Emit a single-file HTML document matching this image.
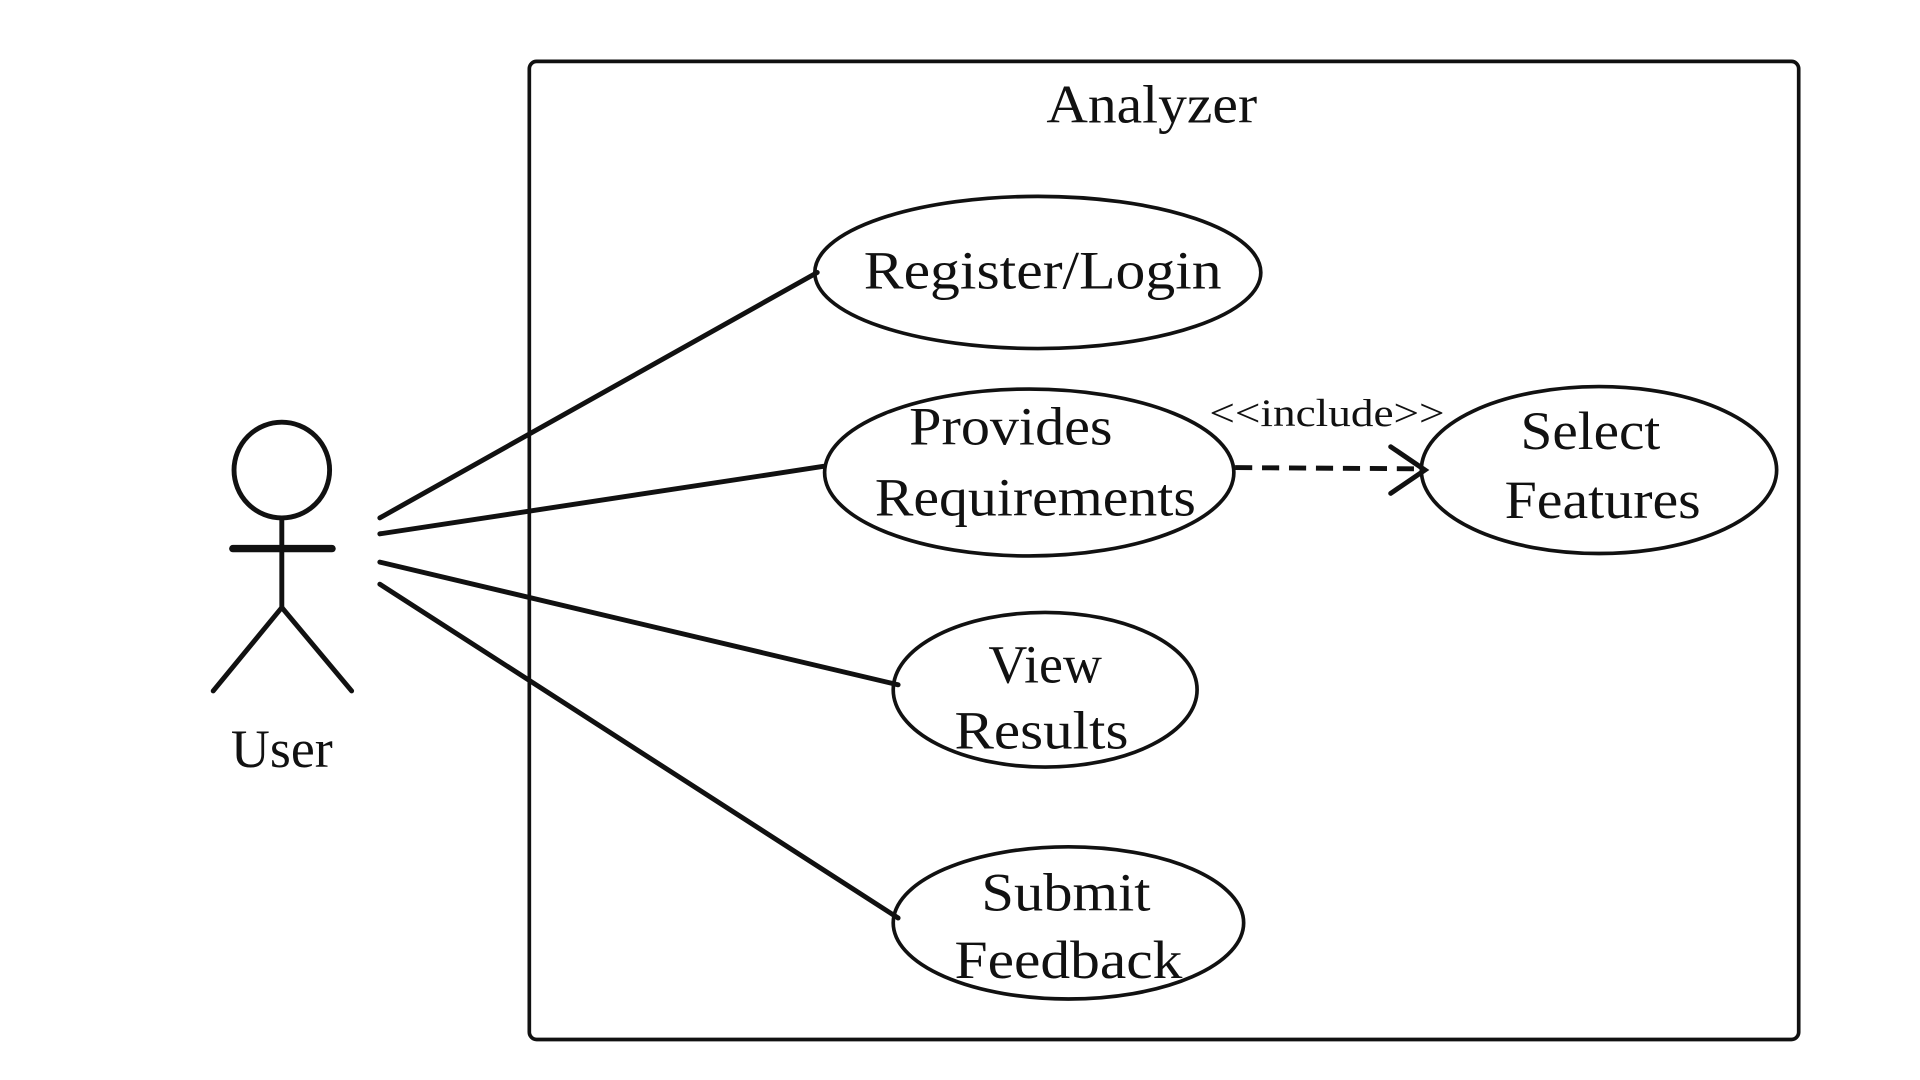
<!DOCTYPE html>
<html><head><style>html,body{margin:0;padding:0;background:#fff}svg{display:block}</style></head>
<body>
<svg width="1920" height="1080" viewBox="0 0 1567 880" preserveAspectRatio="none" xmlns="http://www.w3.org/2000/svg">
<rect width="1567" height="880" fill="#fff"/>
<rect x="432" y="50" width="1036" height="797" rx="6" fill="none" stroke="#111" stroke-width="3"/>
<g font-family="Liberation Serif, serif" fill="#111" text-anchor="middle" font-size="44">
<text x="940" y="100" textLength="172" lengthAdjust="spacingAndGlyphs">Analyzer</text>
<text x="230" y="625">User</text>
<text x="851" y="235" textLength="292" lengthAdjust="spacingAndGlyphs">Register/Login</text>
<text x="825" y="362" textLength="166" lengthAdjust="spacingAndGlyphs">Provides</text>
<text x="845" y="420" textLength="262" lengthAdjust="spacingAndGlyphs">Requirements</text>
<text x="1298" y="366" textLength="114" lengthAdjust="spacingAndGlyphs">Select</text>
<text x="1308" y="422" textLength="160" lengthAdjust="spacingAndGlyphs">Features</text>
<text x="853" y="556">View</text>
<text x="850" y="610" textLength="142" lengthAdjust="spacingAndGlyphs">Results</text>
<text x="870" y="742" textLength="138" lengthAdjust="spacingAndGlyphs">Submit</text>
<text x="872" y="797" textLength="186" lengthAdjust="spacingAndGlyphs">Feedback</text>
<text x="1083" y="347" font-size="32" textLength="192" lengthAdjust="spacingAndGlyphs">&lt;&lt;include&gt;&gt;</text>
</g>
<g fill="none" stroke="#111" stroke-width="3">
<ellipse cx="847" cy="222" rx="182" ry="62"/>
<ellipse cx="840" cy="385" rx="167" ry="68"/>
<ellipse cx="1305" cy="383" rx="145" ry="68"/>
<ellipse cx="853" cy="562" rx="124" ry="63"/>
<ellipse cx="872" cy="752" rx="143" ry="62"/>
</g>
<g fill="none" stroke="#111" stroke-width="4" stroke-linecap="round">
<circle cx="230" cy="383" r="39"/>
<line x1="230" y1="422" x2="230" y2="495"/>
<line x1="190" y1="447" x2="271" y2="447" stroke-width="6"/>
<line x1="230" y1="495" x2="174" y2="563"/>
<line x1="230" y1="495" x2="287" y2="563"/>
<line x1="310" y1="422" x2="667" y2="222"/>
<line x1="310" y1="435" x2="672" y2="380"/>
<line x1="310" y1="458" x2="733" y2="558"/>
<line x1="310" y1="476" x2="733" y2="748"/>
<line x1="1008" y1="381" x2="1160" y2="382" stroke-dasharray="14,8" stroke-linecap="butt"/>
<polyline points="1135,364 1163,383 1135,402"/>
</g>
</svg>
</body></html>
